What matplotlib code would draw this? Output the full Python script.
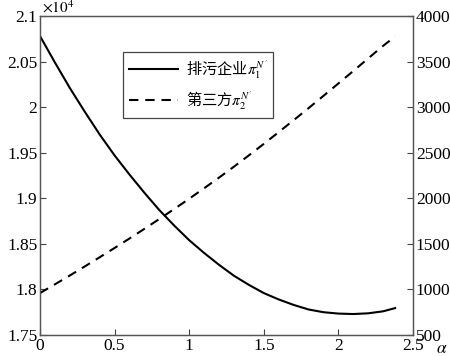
import numpy as np
import matplotlib
matplotlib.use("Agg")
import matplotlib.pyplot as plt

plt.rcParams['font.family'] = ['Liberation Serif', 'Noto Sans CJK SC']
plt.rcParams['mathtext.fontset'] = 'stix'

# 数据
alpha = [0.0, 0.1, 0.2, 0.3, 0.4, 0.5, 0.6, 0.7, 0.8, 0.9, 1.0, 1.1, 1.2,
         1.3, 1.4, 1.5, 1.6, 1.7, 1.8, 1.9, 2.0, 2.1, 2.2, 2.3, 2.38]
pi1 = [2.078, 2.049, 2.021, 1.995, 1.970, 1.947, 1.926, 1.906, 1.887, 1.870,
       1.854, 1.840, 1.827, 1.815, 1.805, 1.796, 1.789, 1.783, 1.778, 1.775,
       1.7735, 1.773, 1.7738, 1.776, 1.7795]
pi2 = [960, 1056, 1153, 1252, 1353, 1455, 1559, 1665, 1773, 1883, 1995, 2110,
       2227, 2347, 2471, 2597, 2726, 2857, 2989, 3124, 3260, 3397, 3535, 3673, 3775]

left_ticks = [1.75, 1.8, 1.85, 1.9, 1.95, 2.0, 2.05, 2.1]
left_labels = ['1.75', '1.8', '1.85', '1.9', '1.95', '2', '2.05', '2.1']
right_ticks = [500, 1000, 1500, 2000, 2500, 3000, 3500, 4000]
x_ticks = [0, 0.5, 1, 1.5, 2, 2.5]
x_labels = ['0', '0.5', '1', '1.5', '2', '2.5']

fig = plt.figure(figsize=(4.5, 3.56), dpi=100)
ax = fig.add_axes([40 / 450, 21 / 356, 373 / 450, 319 / 356])
ax2 = ax.twinx()

l1, = ax.plot(alpha, pi1, color='black', lw=1.5)
l2, = ax2.plot(alpha, pi2, color='black', lw=1.5, ls=(0, (4.5, 3.3)))

ax.set_xlim(0, 2.5)
ax.set_ylim(1.75, 2.1)
ax2.set_ylim(500, 4000)
ax.set_xticks(x_ticks)
ax.set_xticklabels(x_labels)
ax.set_yticks(left_ticks)
ax.set_yticklabels(left_labels)
ax2.set_yticks(right_ticks)

for a in (ax, ax2):
    a.tick_params(direction='in', length=4, width=0.8, labelsize=12.5,
                  color='#444444', pad=2)
    for s in a.spines.values():
        s.set_color('#555555')
        s.set_linewidth(0.9)

ax.text(0.005, 1.0, r'$\times10^4$', transform=ax.transAxes, fontsize=11,
        va='bottom', ha='left')
ax.text(1.077, -0.043, r'$\alpha$', transform=ax.transAxes, fontsize=12.5,
        va='center', ha='center')

leg = ax.legend([l1, l2], ['排污企业$\\pi_1^{N^{\\prime}}$', '第三方$\\pi_2^{N^{\\prime}}$'],
                loc='upper left', bbox_to_anchor=(0.2225, 0.887),
                borderaxespad=0, handlelength=3.2, handletextpad=0.5,
                fancybox=False, framealpha=1, edgecolor='#444444',
                borderpad=0.4, labelspacing=0.55,
                prop={'family': ['Noto Sans CJK SC'], 'size': 11})
leg.get_frame().set_linewidth(0.9)

fig.savefig('out.png', dpi=100)
